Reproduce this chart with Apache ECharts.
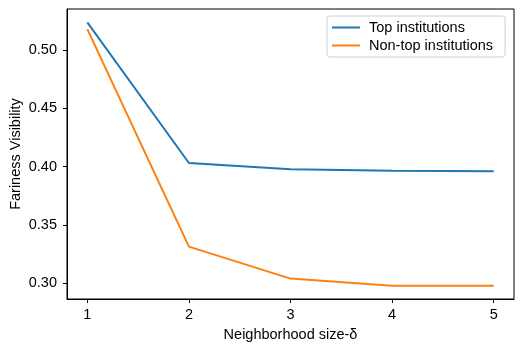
<!DOCTYPE html>
<html>
<head>
<meta charset="utf-8">
<script src="https://cdn.jsdelivr.net/npm/echarts@6/dist/echarts.min.js"></script>
<style>
    html, body { margin: 0; padding: 0; background: #fff; }
    #chart { width: 523px; height: 351px; }
</style>
</head>
<body>
<div id="chart"></div>
<script>
// 邻域大小
const sizes = [1, 2, 3, 4, 5];
const top_inst = [0.5237, 0.4031, 0.3977, 0.3964, 0.3960];
const non_top_inst = [0.5180, 0.3314, 0.3040, 0.2978, 0.2978];
const x_ticks = [1, 2, 3, 4, 5];
const y_ticks = [0.30, 0.35, 0.40, 0.45, 0.50];

const font = 'Liberation Sans, Arial, sans-serif';
const fs = 14.5;
const chart = echarts.init(document.getElementById('chart'));

let option = {
    animation: false,
    textStyle: { fontFamily: font },
    grid: {
        left: 67,
        right: 9,
        top: 9,
        bottom: 52,
        outerBoundsMode: 'none',
        show: true,
        borderColor: '#000',
        borderWidth: 1
    },
    legend: {
        orient: 'vertical',
        left: 327,
        top: 16,
        icon: 'rect',
        itemWidth: 28,
        itemHeight: 2,
        itemGap: 3,
        padding: [4, 12, 4, 5],
        borderColor: '#d0d0d0',
        borderWidth: 1,
        borderRadius: 3,
        textStyle: { fontFamily: font, fontSize: fs, color: '#000', padding: [0, 0, 0, 4] },
        data: ['Top institutions', 'Non-top institutions']
    },
    xAxis: {
        type: 'value',
        min: 0.8,
        max: 5.2,
        name: 'Neighborhood size-δ',
        nameLocation: 'middle',
        nameGap: 28,
        nameMoveOverlap: false,
        nameTextStyle: { fontFamily: font, fontSize: fs, color: '#000' },
        splitLine: { show: false },
        axisLine: { lineStyle: { color: '#000', width: 1 } },
        axisTick: { customValues: x_ticks, length: 4, lineStyle: { color: '#000' } },
        axisLabel: { customValues: x_ticks, margin: 8, fontSize: fs, color: '#000', fontFamily: font }
    },
    yAxis: {
        type: 'value',
        min: 0.2865,
        max: 0.5352,
        name: 'Fariness Visibility',
        nameLocation: 'middle',
        nameGap: 44,
        nameMoveOverlap: false,
        nameTextStyle: { fontFamily: font, fontSize: fs, color: '#000' },
        splitLine: { show: false },
        axisLine: { show: true, lineStyle: { color: '#000', width: 1 } },
        axisTick: { show: true, customValues: y_ticks, length: 4, lineStyle: { color: '#000' } },
        axisLabel: {
            customValues: y_ticks,
            margin: 10,
            fontSize: fs,
            color: '#000',
            fontFamily: font,
            formatter: v => v.toFixed(2)
        }
    },
    series: [
        {
            name: 'Top institutions',
            type: 'line',
            data: sizes.map((x, i) => [x, top_inst[i]]),
            showSymbol: false,
            color: '#1f77b4',
            lineStyle: { width: 2 }
        },
        {
            name: 'Non-top institutions',
            type: 'line',
            data: sizes.map((x, i) => [x, non_top_inst[i]]),
            showSymbol: false,
            color: '#ff7f0e',
            lineStyle: { width: 2 }
        }
    ]
};
chart.setOption(option);
</script>
</body>
</html>
